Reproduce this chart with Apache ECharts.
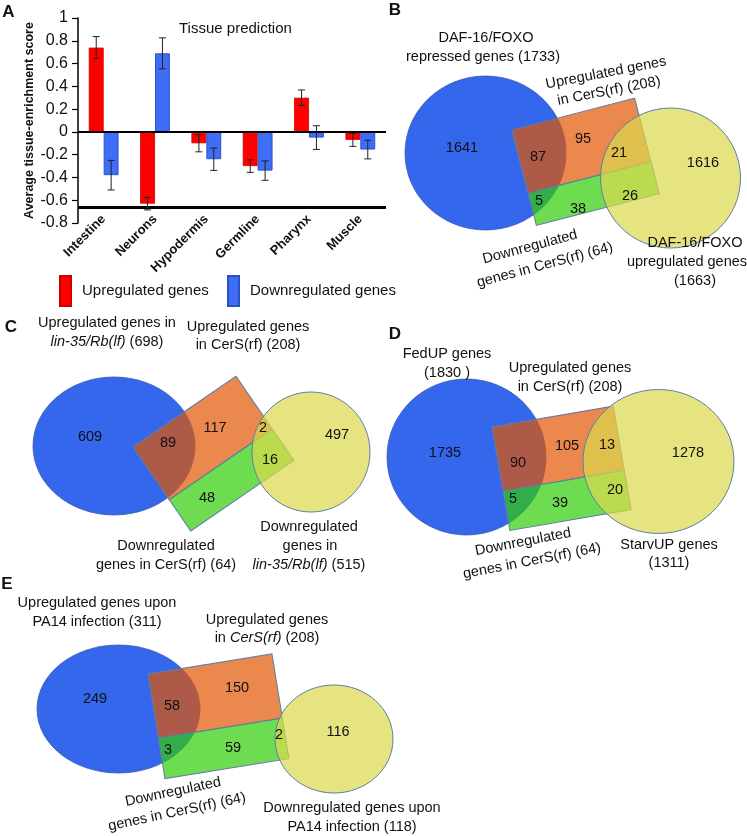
<!DOCTYPE html>
<html><head><meta charset="utf-8">
<script src="https://cdn.jsdelivr.net/npm/echarts@6/dist/echarts.min.js"></script>
<style>html,body{margin:0;padding:0;background:#fff}#c{width:747px;height:836px}</style>
</head><body><div id="c"></div>
<script>
// ---------- Panel A data ----------
const tissues = ['Intestine', 'Neurons', 'Hypodermis', 'Germline', 'Pharynx', 'Muscle'];
const upScores = [0.74, -0.63, -0.10, -0.30, 0.30, -0.07];
const upErrors = [0.097, 0.055, 0.075, 0.055, 0.068, 0.057];
const downScores = [-0.38, 0.69, -0.24, -0.34, -0.05, -0.155];
const downErrors = [0.13, 0.136, 0.098, 0.085, 0.104, 0.082];
const seriesNames = ['Upregulated genes', 'Downregulated genes'];
const yMin = -0.8, yMax = 1, yStep = 0.2;
const bottomLineValue = -0.664;

// ---------- Venn data (region counts and set labels) ----------
const vennCountsB = [1641, 87, 95, 21, 1616, 5, 38, 26];
const vennLabelsB = ['DAF-16/FOXO', 'repressed genes (1733)', 'Upregulated genes', 'in CerS(rf) (208)',
  'Downregulated', 'genes in CerS(rf) (64)', 'DAF-16/FOXO', 'upregulated genes', '(1663)'];
const vennCountsC = [609, 89, 117, 2, 497, 16, 48];
const vennLabelsC = ['Upregulated genes in', '{i|lin-35/Rb(lf)} (698)', 'Upregulated genes', 'in CerS(rf) (208)',
  'Downregulated', 'genes in CerS(rf) (64)', 'Downregulated', 'genes in', '{i|lin-35/Rb(lf)} (515)'];
const vennCountsD = [1735, 90, 105, 13, 1278, 5, 39, 20];
const vennLabelsD = ['FedUP genes', '(1830 )', 'Upregulated genes', 'in CerS(rf) (208)',
  'Downregulated', 'genes in CerS(rf) (64)', 'StarvUP genes', '(1311)'];
const vennCountsE = [249, 58, 150, 116, 2, 3, 59];
const vennLabelsE = ['Upregulated genes upon', 'PA14 infection (311)', 'Upregulated genes', 'in {i|CerS(rf)} (208)',
  'Downregulated', 'genes in CerS(rf) (64)', 'Downregulated genes upon', 'PA14 infection (118)'];
const panelLetters = ['A', 'B', 'C', 'D', 'E'];

// ---------- Layout (positions / sizes) ----------
const FF = '"Liberation Sans", Arial, Helvetica, sans-serif';
const FS = 14.5;
const letterPos = [[8.5, 12], [395, 10], [11, 327], [395, 334], [7, 584]];
const vennLayout = [
  { counts: vennCountsB, labels: vennLabelsB,
    ellipse: [485.5, 153, 80.5, 77], rect: [511.7, 130, 127, 65.5, 33, 14.5], circle: [670.5, 178, 70, 70],
    countPos: [[462,148],[538,157],[583,139],[619,153],[703,163],[539,201],[578,209],[630,196]],
    labelPos: [[486,38,0],[483,57,0],[606,73,11],[609,91,11],[530,247,15],[545,265,15],[695,243,0],[687,262,0],[695,281,0]] },
  { counts: vennCountsC, labels: vennLabelsC,
    ellipse: [114, 446, 81, 69], rect: [133, 447, 125, 64, 38, 34.5], circle: [311, 452, 59, 60],
    countPos: [[90,437],[168,443],[215,428],[263,428],[337,435],[270,460],[207,498]],
    labelPos: [[107,323,0],[107,342,0],[248,327,0],[248,345,0],[166,546,0],[166,565,0],[309,527,0],[310,546,0],[309,565,0]] },
  { counts: vennCountsD, labels: vennLabelsD,
    ellipse: [466.5, 457, 79.5, 78], rect: [492, 427, 123, 65, 40, 9.8], circle: [658.5, 461.5, 75.5, 72],
    countPos: [[445,453],[518,463],[567,446],[607,445],[688,453],[513,499],[560,503],[615,490]],
    labelPos: [[447,354,0],[447,373,0],[570,368,0],[570,387,0],[523,542,11],[532,561,11],[669,545,0],[669,563,0]] },
  { counts: vennCountsE, labels: vennLabelsE,
    ellipse: [118.5, 709, 81.5, 64], rect: [148, 674, 125.6, 65, 41, 9.2], circle: [334, 739, 59, 54],
    countPos: [[95,699],[172,706],[237,688],[338,732],[279,735],[168,750],[233,748]],
    labelPos: [[97,603,0],[97,622,0],[267,620,0],[267,638,0],[173,792,12],[177,812,12],[352,808,0],[352,827,0]] }
];

const BLUE_SET = '#3567ec', ORANGE = 'rgba(227,85,3,0.7)', GREEN = 'rgba(48,205,5,0.7)', YELLOW = 'rgba(219,217,76,0.7)';
const OUTLINE = '#5d7fa6';

function textEl(x, y, txt, size, rotDeg, opts) {
  opts = opts || {};
  return { type: 'text', x: x, y: y, rotation: (rotDeg || 0) * Math.PI / 180, z: 20,
    style: { text: txt, fontSize: size, fontFamily: FF, fontWeight: opts.bold ? 'bold' : 'normal', fill: '#111',
      align: 'center', verticalAlign: 'middle',
      rich: { i: { fontStyle: 'italic', fontSize: size, fontFamily: FF, fill: '#111' } } } };
}

const graphics = [];
letterPos.forEach((p, i) => graphics.push(textEl(p[0], p[1], panelLetters[i], 17, 0, { bold: true })));
vennLayout.forEach(v => {
  const e = v.ellipse, r = v.rect, c = v.circle, rot = r[5] * Math.PI / 180;
  graphics.push({ type: 'ellipse', z: 11, shape: { cx: e[0], cy: e[1], rx: e[2], ry: e[3] },
    style: { fill: BLUE_SET, stroke: '#3a5cae', lineWidth: 0.8 } });
  graphics.push({ type: 'rect', z: 12, x: r[0], y: r[1], rotation: rot, shape: { x: 0, y: 0, width: r[2], height: r[3] },
    style: { fill: ORANGE, stroke: OUTLINE, lineWidth: 1 } });
  graphics.push({ type: 'rect', z: 13, x: r[0], y: r[1], rotation: rot, shape: { x: 0, y: r[3], width: r[2], height: r[4] },
    style: { fill: GREEN, stroke: OUTLINE, lineWidth: 1 } });
  graphics.push({ type: 'ellipse', z: 14, shape: { cx: c[0], cy: c[1], rx: c[2], ry: c[3] },
    style: { fill: YELLOW, stroke: OUTLINE, lineWidth: 1 } });
  v.counts.forEach((n, i) => graphics.push(textEl(v.countPos[i][0], v.countPos[i][1], String(n), FS, 0)));
  v.labels.forEach((t, i) => graphics.push(textEl(v.labelPos[i][0], v.labelPos[i][1], t, FS, v.labelPos[i][2])));
});

function errRender(sign) {
  return function (params, api) {
    const band = api.size([1, 0])[0];
    const off = sign * band * 0.145;
    const lo = api.coord([api.value(0), api.value(1)]);
    const hi = api.coord([api.value(0), api.value(2)]);
    const x = lo[0] + off, cap = 3.5;
    const st = { stroke: '#222', lineWidth: 1 };
    return { type: 'group', children: [
      { type: 'line', shape: { x1: x, y1: lo[1], x2: x, y2: hi[1] }, style: st },
      { type: 'line', shape: { x1: x - cap, y1: lo[1], x2: x + cap, y2: lo[1] }, style: st },
      { type: 'line', shape: { x1: x - cap, y1: hi[1], x2: x + cap, y2: hi[1] }, style: st }
    ] };
  };
}
const upErrData = tissues.map((t, i) => [i, upScores[i] - upErrors[i], upScores[i] + upErrors[i]]);
const downErrData = tissues.map((t, i) => [i, downScores[i] - downErrors[i], downScores[i] + downErrors[i]]);

const chart = echarts.init(document.getElementById('c'), null, { renderer: 'canvas' });
chart.setOption({
  animation: false,
  backgroundColor: '#fff',
  textStyle: { fontFamily: FF },
  title: { text: 'Tissue prediction', left: 179, top: 21, padding: 0,
    textStyle: { fontSize: 15, fontWeight: 'normal', color: '#111', fontFamily: FF } },
  legend: [
    { data: [seriesNames[0]], left: 59, top: 275, padding: 0, itemWidth: 11, itemHeight: 30, icon: 'rect',
      textStyle: { fontSize: 15, color: '#111', padding: [5, 0, 0, 6] } },
    { data: [seriesNames[1]], left: 227, top: 275, padding: 0, itemWidth: 11, itemHeight: 30, icon: 'rect',
      textStyle: { fontSize: 15, color: '#111', padding: [5, 0, 0, 6] } }
  ],
  grid: { left: 78, top: 18, width: 308, height: 205, containLabel: false },
  xAxis: { type: 'category', data: tissues, position: 'bottom',
    axisLine: { show: false, onZero: false }, axisTick: { show: false },
    axisLabel: { rotate: 45, margin: -6, interval: 0, fontSize: 13, fontWeight: 'bold', color: '#111', fontFamily: FF } },
  yAxis: { type: 'value', min: yMin, max: yMax, interval: yStep,
    name: 'Average tissue-enrichment score', nameLocation: 'middle', nameGap: 40, nameRotate: 90,
    nameTextStyle: { fontSize: 12.5, fontWeight: 'bold', color: '#111', fontFamily: FF },
    axisLine: { show: true, lineStyle: { color: '#000', width: 1.5 } },
    axisTick: { show: true, length: 6, lineStyle: { color: '#000', width: 1.2 } },
    splitLine: { show: false },
    axisLabel: { fontSize: 16, color: '#111', margin: 10, fontFamily: FF,
      formatter: v => String(Math.round(v * 10) / 10) } },
  graphic: graphics,
  series: [
    { name: seriesNames[0], type: 'bar', data: upScores, barGap: '0%', barCategoryGap: '42%',
      itemStyle: { color: '#ff0000', borderColor: '#d00000', borderWidth: 0.8 },
      markLine: { silent: true, symbol: 'none', label: { show: false },
        data: [ { yAxis: 0, lineStyle: { color: '#000', width: 2, type: 'solid' } },
                { yAxis: bottomLineValue, lineStyle: { color: '#000', width: 3, type: 'solid' } } ] } },
    { name: seriesNames[1], type: 'bar', data: downScores, barGap: '0%', barCategoryGap: '42%',
      itemStyle: { color: '#3d6ef5', borderColor: '#2a52c8', borderWidth: 1 } },
    { type: 'custom', name: 'errUp', renderItem: errRender(-1), data: upErrData, z: 5,
      encode: { x: 0, y: [1, 2] } },
    { type: 'custom', name: 'errDown', renderItem: errRender(1), data: downErrData, z: 5,
      encode: { x: 0, y: [1, 2] } }
  ]
});
</script></body></html>
